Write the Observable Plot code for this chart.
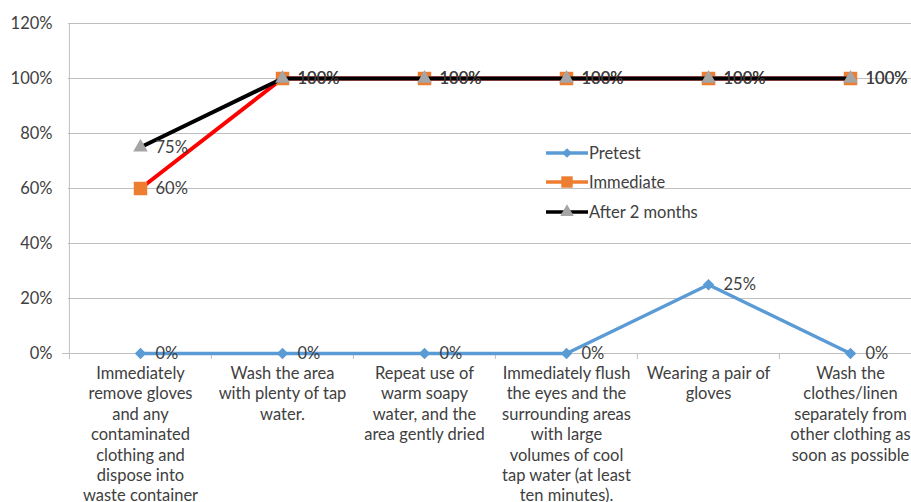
<!DOCTYPE html>
<html>
<head>
<meta charset="utf-8">
<script src="https://cdn.jsdelivr.net/npm/d3@7"></script>
<script src="https://cdn.jsdelivr.net/npm/@observablehq/plot@0.6"></script>
<style>
  html, body { margin: 0; padding: 0; background: #fff; overflow: hidden; }
  #wrap { position: relative; width: 911px; height: 502px; overflow: hidden; }
  #wrap > svg { max-width: none !important; }
  #legend { position: absolute; left: 546px; top: 138px; font-family: Lato, sans-serif; font-size: 16.5px; color: #404040; }
  #legend .row { display: flex; align-items: center; height: 29.5px; }
  #legend svg { display: block; margin-right: 1px; }
</style>
</head>
<body>
<div id="wrap"></div>
<script>
const categories = [
  "Immediately\nremove gloves\nand any\ncontaminated\nclothing and\ndispose into\nwaste container",
  "Wash the area\nwith plenty of tap\nwater.",
  "Repeat use of\nwarm soapy\nwater, and the\narea gently dried",
  "Immediately flush\nthe eyes and the\nsurrounding areas\nwith large\nvolumes of cool\ntap water (at least\nten minutes).",
  "Wearing a pair of\ngloves",
  "Wash the\nclothes/linen\nseparately from\nother clothing as\nsoon as possible"
];
const seriesNames = ["Pretest", "Immediate", "After 2 months"];
const pretest = [0, 0, 0, 0, 0.25, 0];
const immediate = [0.60, 1, 1, 1, 1, 1];
const after2 = [0.75, 1, 1, 1, 1, 1];
const yTicks = [0, 0.2, 0.4, 0.6, 0.8, 1.0, 1.2];

const W = 921, ML = 68, MR = 0;
const bw = (W - ML - MR) / categories.length;

const rows = (vals, s) => vals.map((v, i) => ({cat: categories[i], v, s}));
const dPre = rows(pretest, seriesNames[0]);
const dImm = rows(immediate, seriesNames[1]);
const dAft = rows(after2, seriesNames[2]);

const fmt = d3.format(".0%");
const grid = "#BFBFBF";
const txt = "#404040";
const FS = 16.5;

const chart = Plot.plot({
  width: W,
  height: 502,
  marginLeft: ML,
  marginRight: MR,
  marginTop: 23,
  marginBottom: 149,
  style: {fontFamily: "Lato, sans-serif", fontSize: FS + "px", color: txt, background: "#fff", overflow: "visible"},
  x: {type: "band", domain: categories, padding: 0},
  y: {domain: [0, 1.2]},
  marks: [
    Plot.ruleY(yTicks.slice(1), {stroke: grid, strokeWidth: 1}),
    Plot.ruleY([0], {stroke: grid, strokeWidth: 1, insetLeft: -6}),
    Plot.ruleX(categories, {y1: 0, y2: 0, insetBottom: -6, dx: -bw / 2, stroke: grid}),
    Plot.ruleX([categories[0]], {y1: 0, y2: 1.2, dx: -bw / 2, stroke: grid}),
    Plot.axisY({ticks: yTicks, tickFormat: fmt, tickSize: 0, tickPadding: 16, fontSize: FS, label: null}),
    Plot.axisX({tickSize: 0, tickPadding: 11, lineHeight: 20.4 / FS, fontSize: FS, tickFormat: d => d, label: null}),
    // Pretest
    Plot.line(dPre, {x: "cat", y: "v", stroke: "#5B9BD5", strokeWidth: 3.5}),
    Plot.dot(dPre, {x: "cat", y: "v", symbol: "diamond2", fill: "#5B9BD5", r: 5.2, stroke: null}),
    // Immediate
    Plot.line(dImm, {x: "cat", y: "v", stroke: "#FF0000", strokeWidth: 4}),
    Plot.dot(dImm, {x: "cat", y: "v", symbol: "square", fill: "#ED7D31", r: 7.6, stroke: null}),
    Plot.text(dImm, {x: "cat", y: "v", text: d => fmt(d.v), dx: 15, textAnchor: "start", fill: txt, fontSize: FS}),
    // After 2 months
    Plot.line(dAft, {x: "cat", y: "v", stroke: "#000000", strokeWidth: 4}),
    Plot.dot(dAft, {x: "cat", y: "v", symbol: "triangle", fill: "#A5A5A5", r: 5.4, stroke: null}),
    Plot.text(dAft, {x: "cat", y: "v", text: d => fmt(d.v), dx: 15, textAnchor: "start", fill: txt, fontSize: FS}),
    Plot.text(dPre, {x: "cat", y: "v", text: d => fmt(d.v), dx: 15, textAnchor: "start", fill: txt, fontSize: FS})
  ]
});
const wrap = document.getElementById("wrap");
wrap.appendChild(chart);

// Legend (HTML overlay inside plot area)
const legendItems = [
  {name: seriesNames[0], line: "#5B9BD5", fill: "#5B9BD5", sym: d3.symbolDiamond2, size: 60},
  {name: seriesNames[1], line: "#ED7D31", fill: "#ED7D31", sym: d3.symbolSquare, size: 130},
  {name: seriesNames[2], line: "#000000", fill: "#A5A5A5", sym: d3.symbolTriangle, size: 80}
];
const leg = document.createElement("div");
leg.id = "legend";
for (const it of legendItems) {
  const row = document.createElement("div");
  row.className = "row";
  const s = d3.create("svg").attr("width", 42).attr("height", 16);
  s.append("line").attr("x1", 0).attr("x2", 42).attr("y1", 8).attr("y2", 8)
    .attr("stroke", it.line).attr("stroke-width", 3.5);
  s.append("path").attr("transform", "translate(21,8)")
    .attr("d", d3.symbol(it.sym, it.size)()).attr("fill", it.fill);
  row.appendChild(s.node());
  const t = document.createElement("span");
  t.textContent = it.name;
  row.appendChild(t);
  leg.appendChild(row);
}
wrap.appendChild(leg);
</script>
</body>
</html>
